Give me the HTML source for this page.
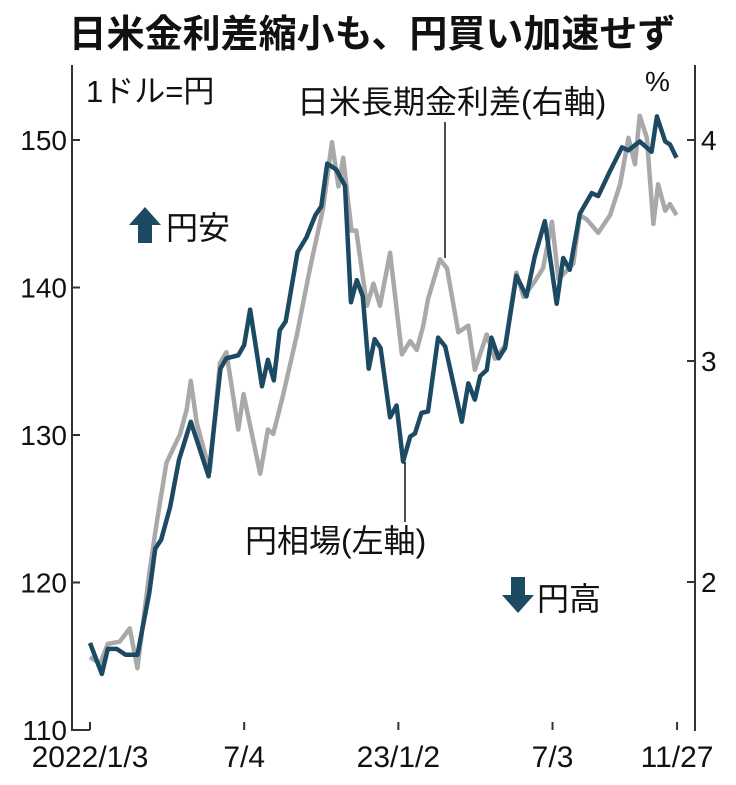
<!DOCTYPE html>
<html><head><meta charset="utf-8"><style>
html,body{margin:0;padding:0;background:#fff;}
svg{display:block;font-family:"Liberation Sans","Noto Sans CJK JP",sans-serif;}
</style></head><body>
<svg id="chart" width="736" height="785" viewBox="0 0 736 785">
<text x="372" y="47" text-anchor="middle" font-size="38" font-weight="bold" fill="#111">日米金利差縮小も、円買い加速せず</text>
<g id="axes" stroke="#333" stroke-width="2" fill="none"></g>
<g id="labels" font-size="28" fill="#111"></g>
<g id="series"></g>
<text x="86" y="102" font-size="31" fill="#111">1ドル=円</text>
<text x="645" y="91" font-size="28" fill="#111">%</text>
<text x="297" y="113" font-size="32" fill="#111">日米長期金利差(右軸)</text>
<line x1="445" y1="122" x2="445" y2="258" stroke="#111" stroke-width="1.5"/>
<text x="245" y="552" font-size="32" fill="#111">円相場(左軸)</text>
<line x1="405" y1="462" x2="405" y2="522" stroke="#111" stroke-width="1.5"/>
<polygon points="145,207 129,225 138,225 138,243 152,243 152,225 161,225" fill="#1d4a63"/>
<text x="166" y="239" font-size="32" fill="#111">円安</text>
<polygon points="518,613 502,595 511,595 511,577 525,577 525,595 534,595" fill="#1d4a63"/>
<text x="537" y="610" font-size="32" fill="#111">円高</text>
</svg>
<script>
const yenWeeks=[0,2,3,4.5,6,8,10,11,12,13.5,15,17,20,22,23,25,26,27,29,30,31,32,33,35,36.5,38,39,40,41.5,43,44,45,46,47,48,49,50.6,51.7,52.8,54,54.8,55.9,57,58.7,59.9,62.7,63.8,64.9,65.8,66.9,67.7,68.9,70,71.9,73.6,75,76.7,78.7,79.8,80.9,82.6,84.6,85.7,87.7,89.7,90.8,92.7,94.7,95.6,97,97.8,98.9];
const yenValues=[115.9,113.8,115.5,115.5,115.1,115.1,119.3,122.3,122.9,125.1,128.3,130.9,127.2,134.5,135.2,135.4,136.1,138.5,133.3,135.1,133.7,137.1,137.7,142.4,143.4,144.9,145.5,148.4,148.0,146.9,139.0,140.5,139.4,134.5,136.5,135.9,131.2,132.0,128.2,129.9,130.1,131.5,131.6,136.6,136.0,130.9,133.5,132.4,134.0,134.4,136.6,135.2,135.9,140.8,139.4,142.1,144.5,138.9,142.0,141.2,145.0,146.4,146.2,147.9,149.5,149.3,149.9,149.2,151.6,149.9,149.7,148.8];
const gapWeeks=[0,1.7,3,5,6.7,8,10,11.2,12.9,15.2,16.3,17,18,20.2,21.9,23,25,25.9,28.7,30,30.9,32.6,34.9,37.1,39.3,40.8,41.9,42.7,44.1,44.9,46.7,47.8,48.9,50.6,52.6,54,55.1,56.2,57,59,60.2,62.1,63.8,64.9,66.9,68.3,70,71.9,73.1,75,76.4,77.9,79,81.5,82.6,83.8,85.7,87.7,89.4,90.8,91.9,92.7,93.9,95,95.8,97,97.8,98.9];
const gapValues=[1.66,1.63,1.72,1.73,1.79,1.61,2.04,2.26,2.54,2.67,2.78,2.91,2.72,2.50,2.99,3.04,2.69,2.85,2.49,2.69,2.67,2.85,3.12,3.42,3.69,3.99,3.79,3.92,3.59,3.59,3.25,3.35,3.25,3.49,3.03,3.09,3.05,3.16,3.28,3.46,3.42,3.13,3.16,2.96,3.12,3.01,3.07,3.40,3.29,3.36,3.42,3.63,3.37,3.44,3.66,3.64,3.58,3.66,3.80,4.01,3.89,4.11,4.01,3.62,3.80,3.68,3.71,3.66];
const leftTicks=[110,120,130,140,150];
const rightTicks=[2,3,4];
const xTickWeeks=[0,26,52,78,99];
const xTickLabels=["2022/1/3","7/4","23/1/2","7/3","11/27"];

const NS="http://www.w3.org/2000/svg";
const xS=w=>90+w*5.93;
const yL=v=>140+(150-v)*14.75;
const yR=v=>140+(4-v)*221;
function mk(tag,attrs,parent){const e=document.createElementNS(NS,tag);for(const k in attrs)e.setAttribute(k,attrs[k]);parent.appendChild(e);return e;}
const axes=document.getElementById('axes'),labels=document.getElementById('labels'),series=document.getElementById('series');
let e=mk('line',{x1:72,y1:65,x2:72,y2:731},axes);


e=mk('line',{x1:695,y1:65,x2:695,y2:731},axes);


e=mk('line',{x1:72,y1:730,x2:90,y2:730},axes);


leftTicks.forEach(v=>{
  const t=mk('line',{x1:72,y1:yL(v),x2:80,y2:yL(v)},axes);
  
  
  const l=mk('text',{x:67,y:yL(v)+10,'text-anchor':'end'},labels);l.textContent=v;
  
  
});
rightTicks.forEach(v=>{
  const t=mk('line',{x1:687,y1:yR(v),x2:695,y2:yR(v)},axes);
  
  
  const l=mk('text',{x:701,y:yR(v)+10},labels);l.textContent=v;
  
  
});
xTickWeeks.forEach((w,i)=>{
  const t=mk('line',{x1:xS(w),y1:722,x2:xS(w),y2:730},axes);
  
  
  const l=mk('text',{x:xS(w),y:767,'text-anchor':'middle','font-size':30},labels);l.textContent=xTickLabels[i];
  
  
});
const gp=mk('polyline',{points:gapWeeks.map((w,i)=>xS(w)+','+yR(gapValues[i])).join(' '),fill:'none',stroke:'#a9a9a9','stroke-width':4.5,'stroke-linejoin':'round'},series);


const yp=mk('polyline',{points:yenWeeks.map((w,i)=>xS(w)+','+yL(yenValues[i])).join(' '),fill:'none',stroke:'#1d4a63','stroke-width':4.5,'stroke-linejoin':'round'},series);


</script>
</body></html>
